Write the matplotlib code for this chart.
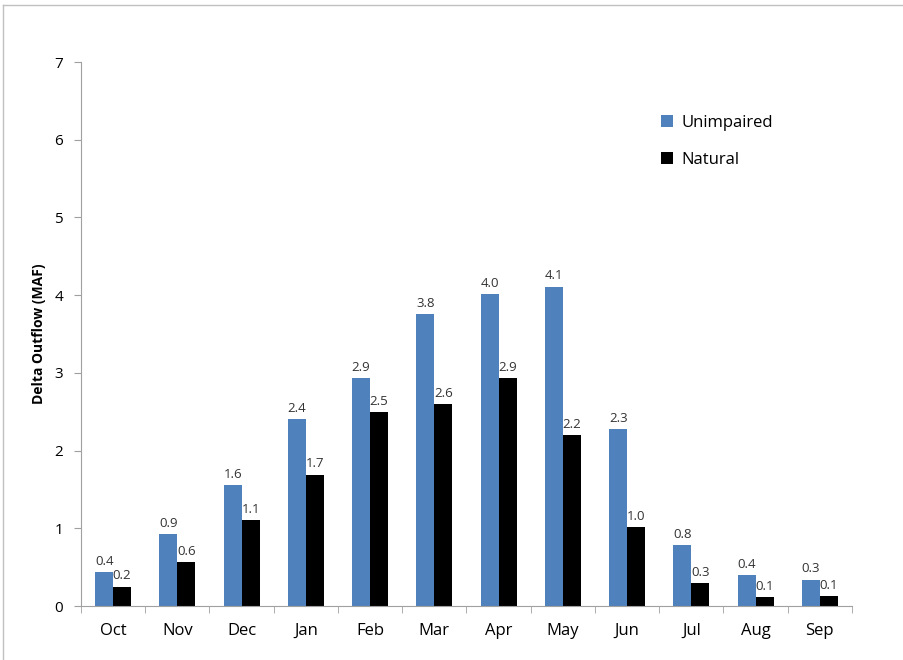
import matplotlib.pyplot as plt
import numpy as np
from matplotlib.lines import Line2D

months = ['Oct', 'Nov', 'Dec', 'Jan', 'Feb', 'Mar', 'Apr', 'May', 'Jun', 'Jul', 'Aug', 'Sep']
unimpaired = [0.44, 0.93, 1.56, 2.40, 2.93, 3.76, 4.01, 4.11, 2.28, 0.78, 0.40, 0.34]
natural = [0.25, 0.57, 1.11, 1.69, 2.49, 2.60, 2.93, 2.20, 1.02, 0.30, 0.12, 0.13]

plt.rcParams['font.family'] = ['Open Sans', 'DejaVu Sans']

fig = plt.figure(figsize=(9.04, 6.6), dpi=100)
ax = fig.add_axes([81/904, 1-606/660, 771/904, 544/660])

x = np.arange(len(months))
w = 0.28
blue = '#4f81bd'
b1 = ax.bar(x - w/2, unimpaired, w, color=blue, label='Unimpaired')
b2 = ax.bar(x + w/2, natural, w, color='black', label='Natural')

for bars, vals in ((b1, unimpaired), (b2, natural)):
    for r, v in zip(bars, vals):
        ax.annotate('%.1f' % v, (r.get_x() + r.get_width()/2, v),
                    xytext=(0, 3), textcoords='offset points',
                    ha='center', va='bottom', fontsize=9.5, color='#333333')

ax.set_xlim(-0.5, len(months) - 0.5)
ax.set_ylim(0, 7)
ax.set_yticks(range(8))
ax.set_xticks(x)
ax.set_xticklabels(months, fontsize=12)
ax.set_xticks(np.arange(-0.5, len(months)), minor=True)
ax.tick_params(axis='x', which='major', length=0, pad=12)
ax.tick_params(axis='x', which='minor', length=5, color='#a0a0a0')
ax.tick_params(axis='y', length=5, color='#a0a0a0', labelsize=11, pad=8)
for s in ('top', 'right'):
    ax.spines[s].set_visible(False)
ax.spines['left'].set_color('#a0a0a0')
ax.spines['bottom'].set_color('#a0a0a0')
ax.set_ylabel('Delta Outflow (MAF)', fontsize=10, fontweight='bold', labelpad=6)

ax.legend(loc='upper left', bbox_to_anchor=(0.733, 0.93), frameon=False,
          fontsize=12, handlelength=0.7, handleheight=0.7, labelspacing=1.25,
          handletextpad=0.5)

# outer frame (left and top only)
fig.add_artist(Line2D([3/904, 3/904], [0, 1-5/660], color='#c0c0c0', lw=1))
fig.add_artist(Line2D([3/904, 1], [1-5/660, 1-5/660], color='#c0c0c0', lw=1))

fig.savefig('out.png', dpi=100)
